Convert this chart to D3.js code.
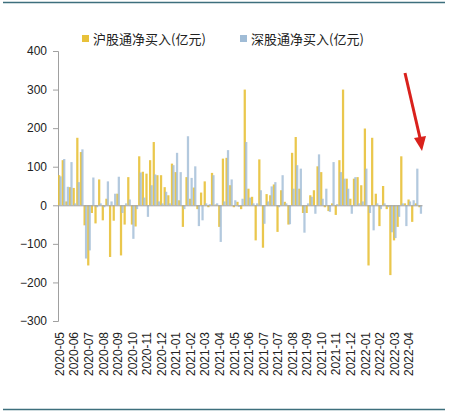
<!DOCTYPE html>
<html><head><meta charset="utf-8">
<script src="https://cdn.jsdelivr.net/npm/d3@7"></script>
<style>body{margin:0;background:#fff}svg{display:block}</style>
</head><body><svg id="c" width="449" height="413"></svg>
<script>
const seriesNames = ["沪股通净买入(亿元)", "深股通净买入(亿元)"];
const huValues = [78,117,10,47,45,175,138,-52,-156,-20,-47,67,-39,17,-134,-40,30,-130,-50,73,-50,-55,127,87,82,117,164,78,78,47,26,108,86,13,-56,73,17,46,-10,33,62,-5,84,2,-56,121,123,52,-5,9,-10,300,43,22,-91,119,-110,29,26,54,-69,39,9,-50,136,177,43,-20,-20,26,39,101,86,-5,-15,5,-25,117,300,69,17,69,73,52,199,-156,175,30,-54,50,-10,-181,-91,-56,127,5,15,-43,5,-5];
const shenValues = [75,120,48,112,5,60,145,-138,-117,72,-5,5,-5,62,10,30,74,-20,5,15,-87,-10,85,20,-30,52,80,10,5,35,5,104,136,86,-10,179,71,101,-54,-39,5,3,78,5,-95,10,143,67,13,-4,17,164,20,5,5,39,-48,10,49,60,-5,78,5,-49,43,104,95,-71,5,22,-22,132,17,43,-17,112,3,86,69,43,-22,73,5,10,95,-20,-65,5,-10,5,-5,-70,-85,-30,5,-54,10,13,95,-22];
const categories = d3.range(huValues.length);
const tickLabels = ["2020-05","2020-06","2020-07","2020-08","2020-09","2020-10","2020-11","2020-12","2021-01","2021-02","2021-03","2021-04","2021-05","2021-06","2021-07","2021-07","2021-08","2021-09","2021-10","2021-11","2021-12","2022-01","2022-02","2022-03","2022-04"];
const yTicks = [400,300,200,100,0,-100,-200,-300];

(function(){
const colors = ["#E8C13A", "#A0BCD6"];
const svg = d3.select("#c");
const mL = 58, mR = 422, mT = 51, mB = 321;
const x = d3.scaleBand().domain(categories).range([mL, mR]).padding(0);
const y = d3.scaleLinear().domain([-300, 400]).range([mB, mT]);

svg.append("line").attr("x1",3).attr("x2",445).attr("y1",2.5).attr("y2",2.5).attr("stroke","#3d6f7d").attr("stroke-width",1.5);
svg.append("line").attr("x1",3).attr("x2",445).attr("y1",409.5).attr("y2",409.5).attr("stroke","#3d6f7d").attr("stroke-width",1.5);

const yAxis = svg.append("g").attr("transform",`translate(${mL},0)`)
  .call(d3.axisLeft(y).tickValues(yTicks).tickSize(5).tickPadding(6).tickFormat(d3.format("d")));
yAxis.select(".domain").attr("stroke","#a0a0a0");
yAxis.selectAll(".tick line").attr("stroke","#a0a0a0");
yAxis.selectAll("text").attr("font-family","'Liberation Sans', Arial, sans-serif").attr("font-size",12).attr("fill","#222");

const bw = x.bandwidth();
const g = svg.append("g");
g.selectAll("rect.hu").data(huValues).join("rect").attr("class","hu")
  .attr("x",(d,i)=>x(categories[i]))
  .attr("width",bw*0.62)
  .attr("y",d=>y(Math.max(0,d)))
  .attr("height",d=>Math.abs(y(d)-y(0)))
  .attr("fill",colors[0]).attr("fill-opacity",0.9);
g.selectAll("rect.shen").data(shenValues).join("rect").attr("class","shen")
  .attr("x",(d,i)=>x(categories[i])+bw*0.4)
  .attr("width",bw*0.62)
  .attr("y",d=>y(Math.max(0,d)))
  .attr("height",d=>Math.abs(y(d)-y(0)))
  .attr("fill",colors[1]).attr("fill-opacity",0.8);

const tickIdx = tickLabels.map((t,i)=>i*4);
const xAxis = svg.append("g").attr("transform",`translate(0,${y(0)})`)
  .call(d3.axisBottom(x).tickValues(tickIdx).tickSize(0).tickFormat(""));
xAxis.select(".domain").attr("stroke","#a0a0a0");

svg.append("g").selectAll("text").data(tickLabels).join("text")
  .attr("transform",(d,i)=>`translate(${x(tickIdx[i])+bw/2+4},332) rotate(-90)`)
  .attr("text-anchor","end")
  .attr("font-family","'Liberation Sans', Arial, sans-serif").attr("font-size",12).attr("fill","#222")
  .text(d=>d);

const leg = svg.append("g");
const legX = [82, 240];
seriesNames.forEach((n,i)=>{
  leg.append("rect").attr("x",legX[i]).attr("y",35).attr("width",7).attr("height",7).attr("fill",colors[i]);
  leg.append("text").attr("x",legX[i]+11).attr("y",44)
    .attr("font-family","'Noto Sans CJK SC', sans-serif").attr("font-size",13).attr("fill","#222").text(n);
});

svg.append("line").attr("x1",405).attr("y1",73).attr("x2",420).attr("y2",138)
  .attr("stroke","#d9211c").attr("stroke-width",3);
svg.append("path").attr("d","M414,138 L426,136 L422,151 Z").attr("fill","#d9211c");
})();
</script></body></html>
